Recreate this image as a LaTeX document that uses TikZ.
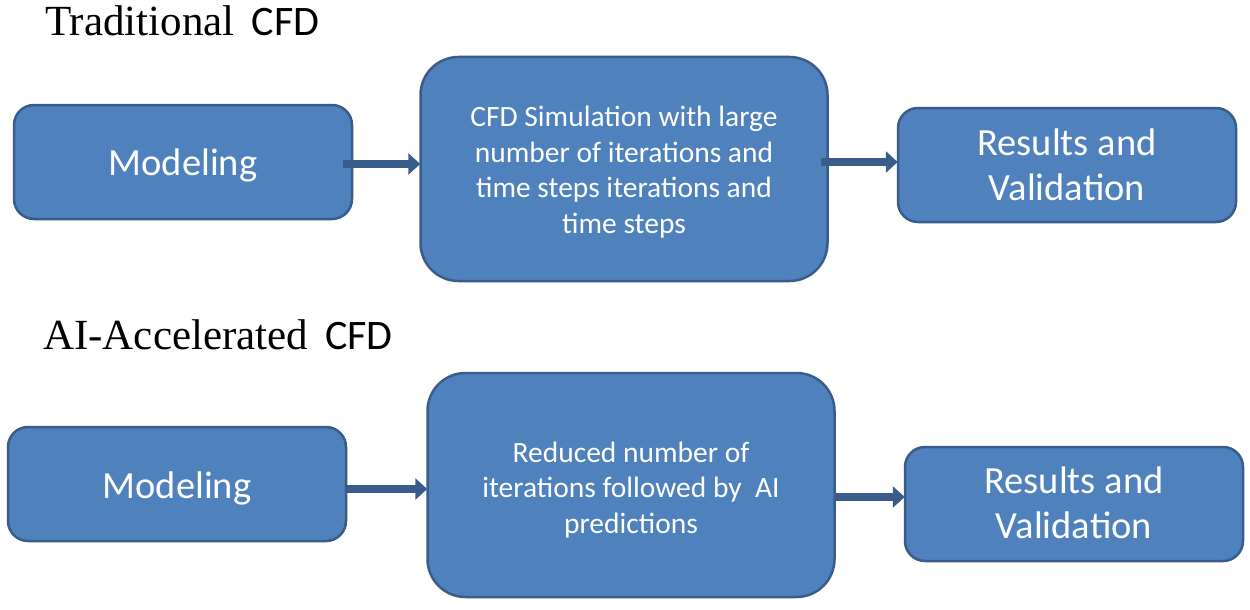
\documentclass[tikz,border=0pt]{standalone}
\usepackage{fontspec}
\setmainfont{Liberation Serif}
\newfontfamily\calibri{Carlito}
\usetikzlibrary{arrows.meta}
\definecolor{boxfill}{HTML}{4F81BD}
\definecolor{boxline}{HTML}{385D8A}
\tikzset{
  blockbox/.style={draw=boxline, fill=boxfill, line width=2.5pt, inner sep=0pt},
  smallbox/.style={blockbox, rounded corners=20pt, minimum width=338pt, minimum height=114pt},
  bigbox/.style={blockbox, rounded corners=38pt, minimum width=407pt, minimum height=224pt},
  bigtext/.style={text=white, align=center, inner sep=0pt, font=\calibri\fontsize{29.5}{35.5}\selectfont},
  smalltext/.style={text=white, align=center, inner sep=0pt, font=\calibri\fontsize{38.5}{44.5}\selectfont},
  flowarrow/.style={draw=boxline, line width=8.5pt, -{Triangle[length=12pt,width=21pt]}, shorten >=-1pt},
  heading/.style={anchor=base west, inner sep=0pt, font=\fontsize{43}{48}\selectfont}
}
\begin{document}
\begin{tikzpicture}[x=1pt,y=-1pt]
\useasboundingbox (0,0) rectangle (1250,610);
\fill[white] (0,0) rectangle (1250,610);
% headings
\node[heading] (h1) at (45,36) {Traditional\hspace{17pt}{\calibri\fontsize{42}{48}\selectfont CFD}};
\node[heading] (h2) at (43,349) {AI-Accelerated\hspace{17pt}{\calibri\fontsize{42}{48}\selectfont CFD}};
% top row
\node[smallbox] (m1) at (183,162) {};
\node[smalltext] (m1t) at ([yshift=-3pt]m1.center) {Modeling};
\node[bigbox] (c1) at (624,169) {};
\node[bigtext] (c1t) at ([yshift=-3pt]c1.center) {CFD Simulation with large\\number of iterations and\\time steps iterations and\\time steps};
\node[smallbox] (r1) at (1067,165) {};
\node[smalltext] (r1t) at (r1.center) {Results and\\Validation};
% bottom row
\node[smallbox] (m2) at (177,484) {};
\node[smalltext] (m2t) at ([yshift=-4pt]m2.center) {Modeling};
\node[bigbox] (c2) at (631,485) {};
\node[bigtext] (c2t) at ([yshift=-5pt]c2.center) {Reduced number of\\iterations followed by\ \ AI\\predictions};
\node[smallbox] (r2) at (1074,504) {};
\node[smalltext] (r2t) at ([yshift=1pt]r2.center) {Results and\\Validation};
% arrows
\draw[flowarrow] ([xshift=-10pt,yshift=-2pt]m1.east) -- ([yshift=-2pt]m1.east -| c1.west);
\draw[flowarrow] ([xshift=-8pt,yshift=3pt]r1.west -| c1.east) -- ([yshift=3pt]r1.west);
\draw[flowarrow] ([yshift=-5pt]m2.east) -- ([yshift=-5pt]m2.east -| c2.west);
\draw[flowarrow] ([yshift=7pt]r2.west -| c2.east) -- ([yshift=7pt]r2.west);
\end{tikzpicture}
\end{document}
